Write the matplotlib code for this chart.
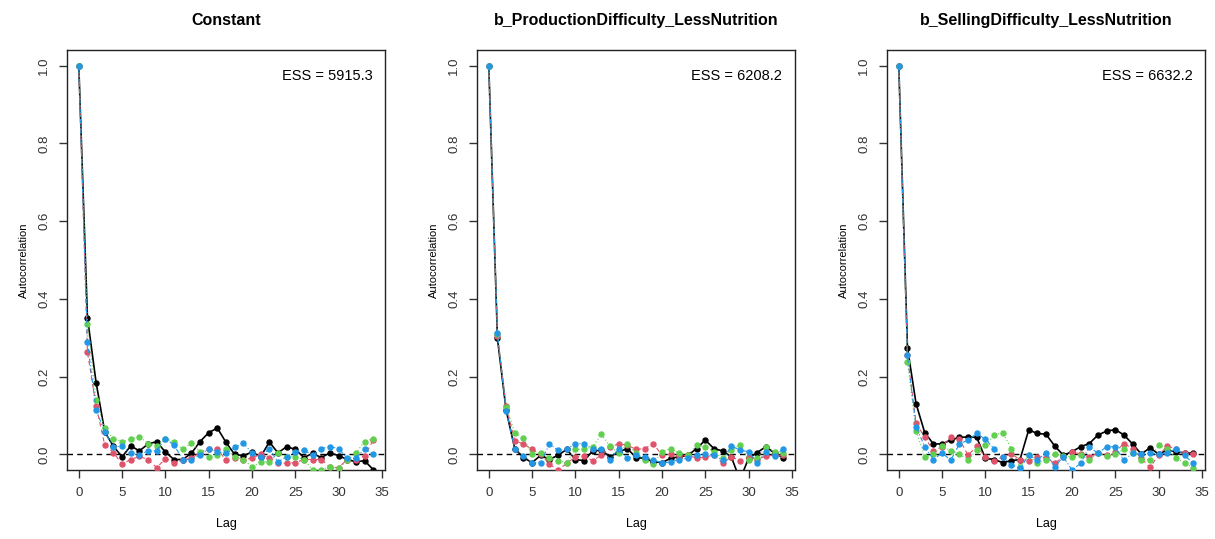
import numpy as np
import matplotlib
matplotlib.use("Agg")
import matplotlib.pyplot as plt

plt.rcParams['font.family'] = ['Liberation Sans', 'DejaVu Sans']

lags = np.arange(35)

titles = ["Constant",
          "b_ProductionDifficulty_LessNutrition",
          "b_SellingDifficulty_LessNutrition"]
ess = ["ESS = 5915.3", "ESS = 6208.2", "ESS = 6632.2"]

# chain 1 (black), 2 (red), 3 (green), 4 (blue) for each parameter
p1_black = [1.0, 0.352, 0.185, 0.058, 0.021, -0.006, 0.022, 0.009, 0.027, 0.033,
            0.006, -0.013, -0.013, 0.003, 0.033, 0.056, 0.068, 0.031, 0.0, -0.003,
            0.006, -0.006, 0.032, 0.004, 0.02, 0.013, -0.008, 0.003, -0.008, 0.004,
            -0.003, -0.013, -0.019, -0.016, -0.039]
p1_red = [1.0, 0.263, 0.125, 0.024, 0.005, -0.025, -0.013, -0.005, -0.013, -0.034,
          -0.011, -0.021, -0.013, -0.01, 0.005, 0.015, 0.014, -0.015, -0.01, -0.013,
          -0.01, 0.001, -0.01, -0.021, -0.023, -0.021, -0.013, -0.013, -0.013, -0.032,
          -0.034, -0.013, -0.013, -0.004, 0.037]
p1_green = [1.0, 0.336, 0.14, 0.067, 0.041, 0.033, 0.039, 0.046, 0.028, 0.022,
            0.04, 0.033, 0.013, 0.03, 0.007, -0.006, -0.002, 0.014, -0.006, -0.013,
            -0.032, -0.019, -0.019, 0.004, -0.006, -0.006, -0.013, -0.04, -0.039, -0.032,
            -0.036, -0.015, 0.004, 0.033, 0.041]
p1_blue = [1.0, 0.288, 0.114, 0.058, 0.02, 0.021, 0.003, -0.002, 0.01, 0.01,
           0.041, 0.024, -0.013, -0.013, -0.002, 0.015, 0.007, 0.003, 0.018, 0.03,
           0.003, -0.006, 0.015, -0.019, -0.006, 0.007, 0.011, -0.002, 0.015, 0.02,
           0.015, -0.01, -0.01, 0.015, 0.001]

p2_black = [1.0, 0.299, 0.114, 0.015, -0.008, -0.021, -0.002, -0.013, -0.002, 0.013,
            -0.013, -0.016, 0.009, 0.011, -0.006, 0.007, 0.015, -0.008, -0.01, -0.019,
            -0.021, -0.01, -0.006, -0.002, 0.015, 0.037, 0.015, 0.009, -0.006, -0.065,
            -0.01, 0.005, 0.02, 0.003, -0.008]
p2_red = [1.0, 0.305, 0.125, 0.035, 0.027, 0.013, 0.001, -0.025, -0.04, -0.023,
          -0.006, -0.004, -0.016, -0.002, 0.02, 0.027, 0.024, 0.013, 0.015, 0.028,
          -0.002, 0.001, -0.004, -0.002, -0.01, -0.006, -0.002, -0.023, -0.006, -0.016,
          -0.006, -0.013, -0.004, -0.002, -0.002]
p2_green = [1.0, 0.31, 0.123, 0.056, 0.043, 0.001, 0.004, -0.01, -0.016, -0.021,
            0.013, 0.013, 0.02, 0.052, 0.021, 0.003, 0.028, 0.003, -0.015, -0.025,
            0.007, 0.015, 0.003, -0.002, 0.024, 0.02, 0.007, -0.01, 0.011, 0.024,
            -0.013, -0.01, 0.02, 0.007, 0.003]
p2_blue = [1.0, 0.312, 0.112, 0.015, -0.004, -0.021, -0.021, 0.027, 0.011, 0.013,
           0.028, 0.028, 0.015, 0.015, -0.013, 0.015, -0.01, -0.002, -0.006, -0.013,
           -0.023, -0.019, -0.013, -0.01, -0.002, 0.001, -0.002, -0.015, 0.022, 0.011,
           0.007, -0.021, 0.007, -0.004, 0.015]

p3_black = [1.0, 0.275, 0.13, 0.056, 0.027, 0.027, 0.037, 0.044, 0.045, 0.044,
            -0.01, -0.013, -0.021, -0.016, -0.013, 0.063, 0.054, 0.052, 0.022, -0.002,
            0.007, 0.02, 0.028, 0.05, 0.06, 0.064, 0.05, 0.027, 0.001, 0.017,
            0.001, 0.011, 0.007, 0.004, 0.003]
p3_red = [1.0, 0.255, 0.08, 0.044, 0.009, 0.02, 0.045, 0.039, -0.002, 0.021,
          -0.006, -0.016, -0.006, 0.001, -0.013, -0.016, -0.006, -0.008, -0.023, -0.006,
          0.007, 0.001, -0.006, 0.003, -0.002, 0.007, 0.028, 0.015, -0.01, -0.033,
          -0.002, 0.021, 0.015, 0.004, 0.001]
p3_green = [1.0, 0.239, 0.06, -0.006, 0.001, 0.021, 0.01, 0.001, -0.013, 0.011,
            0.024, 0.05, 0.056, 0.015, -0.032, -0.002, -0.023, -0.013, 0.001, -0.004,
            -0.006, -0.002, -0.013, 0.003, -0.004, 0.001, 0.013, 0.003, -0.013, -0.013,
            0.024, 0.015, -0.01, -0.021, -0.036]
p3_blue = [1.0, 0.256, 0.071, 0.02, -0.013, 0.004, -0.015, 0.027, 0.037, 0.054,
           0.039, 0.015, -0.006, -0.027, -0.036, -0.002, -0.013, 0.003, -0.032, -0.006,
           -0.04, -0.023, 0.02, 0.003, 0.02, 0.02, -0.015, 0.003, 0.001, 0.003,
           0.001, 0.003, 0.015, -0.002, -0.023]

panels = [
    [p1_black, p1_red, p1_green, p1_blue],
    [p2_black, p2_red, p2_green, p2_blue],
    [p3_black, p3_red, p3_green, p3_blue],
]

colors = ["#000000", "#DF536B", "#61D04F", "#2297E6"]
styles = ["-", (0, (4, 3)), (0, (1, 2)), (0, (1, 2, 4, 2))]
widths = [1.2, 0.8, 0.8, 0.8]

fig = plt.figure(figsize=(12.15, 5.39), dpi=100)
lefts = [67, 477, 887]
for i in range(3):
    ax = fig.add_axes([lefts[i] / 1215, 1 - 470 / 539, 318 / 1215, 420 / 539])
    ax.axhline(0, color="black", ls=(0, (4, 3)), lw=1.0, zorder=1)
    for j in range(4):
        ax.plot(lags, panels[i][j], color=colors[j], ls=styles[j], lw=widths[j],
                marker="o", ms=3.6, mec=colors[j], mfc=colors[j], zorder=2 + j)
    ax.set_xlim(-1.36, 35.36)
    ax.set_ylim(-0.04, 1.04)
    ax.set_xticks(range(0, 36, 5))
    ax.set_yticks([0.0, 0.2, 0.4, 0.6, 0.8, 1.0])
    ax.set_yticklabels(["0.0", "0.2", "0.4", "0.6", "0.8", "1.0"], rotation=90, va="center")
    ax.tick_params(direction="out", length=6, width=1, labelsize=9.5, pad=6,
                   colors="#333333")
    for s in ax.spines.values():
        s.set_linewidth(1.0)
        s.set_color("#222222")
    ax.set_xlabel("Lag", fontsize=9, labelpad=14)
    ax.set_ylabel("Autocorrelation", fontsize=8, labelpad=7)
    ax.set_title(titles[i], fontsize=11.5, fontweight="bold", pad=18)
    ax.text(0.96, 0.955, ess[i], transform=ax.transAxes, ha="right", va="top", fontsize=10.5)

fig.savefig("out.png", dpi=100)
